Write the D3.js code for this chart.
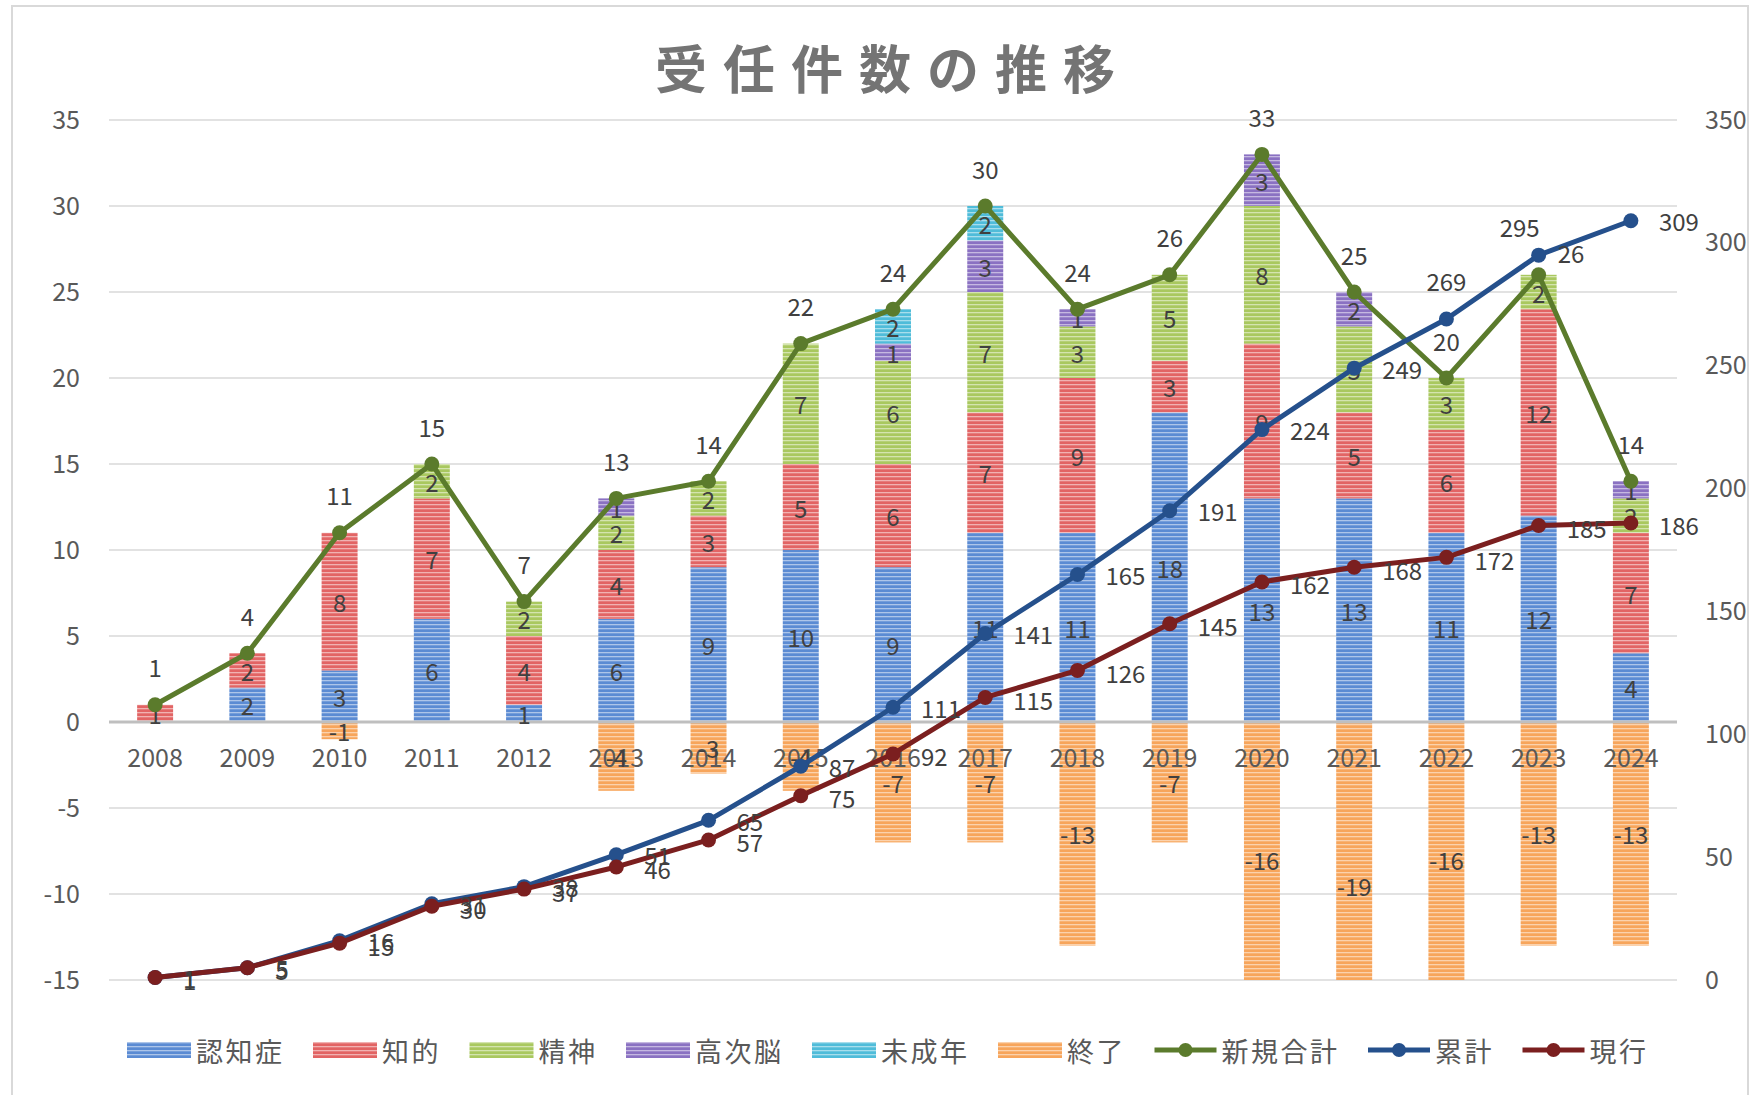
<!DOCTYPE html>
<html><head><meta charset="utf-8">
<script src="https://cdn.jsdelivr.net/npm/d3@7"></script>
<style>
html,body{margin:0;padding:0;background:#fff;}
svg text{font-family:"Noto Sans CJK JP","Noto Sans",sans-serif;}
</style></head><body>
<svg id="chart" width="1757" height="1095"></svg>
<script>
// ---------- data ----------
const years = ["2008","2009","2010","2011","2012","2013","2014","2015","2016","2017","2018","2019","2020","2021","2022","2023","2024"];
const dementia     = [0,2,3,6,1,6,9,10,9,11,11,18,13,13,11,12,4];   // 認知症
const intellectual = [1,2,8,7,4,4,3,5,6,7,9,3,9,5,6,12,7];          // 知的
const mental       = [0,0,0,2,2,2,2,7,6,7,3,5,8,5,3,2,2];           // 精神
const brain        = [0,0,0,0,0,1,0,0,1,3,1,0,3,2,0,0,1];           // 高次脳
const minor        = [0,0,0,0,0,0,0,0,2,2,0,0,0,0,0,0,0];           // 未成年
const ended        = [0,0,-1,0,0,-4,-3,-4,-7,-7,-13,-7,-16,-19,-16,-13,-13]; // 終了
const newTotal     = [1,4,11,15,7,13,14,22,24,30,24,26,33,25,20,26,14];      // 新規合計
const cumulative   = [1,5,16,31,38,51,65,87,111,141,165,191,224,249,269,295,309]; // 累計
const current      = [1,5,15,30,37,46,57,75,92,115,126,145,162,168,172,185,186];  // 現行
const leftTicks  = [-15,-10,-5,0,5,10,15,20,25,30,35];
const rightTicks = [0,50,100,150,200,250,300,350];
const title = "受任件数の推移";

// ---------- styles ----------
const barSeries = [
  {key:"認知症", values:dementia,     color:"#5b8bd3"},
  {key:"知的",   values:intellectual, color:"#e26464"},
  {key:"精神",   values:mental,       color:"#a9c85f"},
  {key:"高次脳", values:brain,        color:"#8a71c2"},
  {key:"未成年", values:minor,        color:"#4fbcd9"},
  {key:"終了",   values:ended,        color:"#f7a55b"}
];
const lineSeries = [
  {key:"新規合計", values:newTotal,   color:"#5b7b2c", axis:"L"},
  {key:"累計",     values:cumulative, color:"#25508c", axis:"R"},
  {key:"現行",     values:current,    color:"#7b1f1f", axis:"R"}
];

const svg = d3.select("#chart");
const plot = {l:109, r:1677, t:120, b:980};
const numFmt = d => String(d);

// chart border
svg.append("rect").attr("x",12).attr("y",6).attr("width",1736).attr("height",1110)
  .attr("fill","#fff").attr("stroke","#d9d9d9").attr("stroke-width",2);

// patterns
const defs = svg.append("defs");
barSeries.forEach((s,i)=>{
  const p = defs.append("pattern").attr("id","pat"+i).attr("patternUnits","userSpaceOnUse")
    .attr("width",8).attr("height",4);
  p.append("rect").attr("width",8).attr("height",4).attr("fill",s.color);
  p.append("rect").attr("y",0).attr("width",8).attr("height",1.3).attr("fill","#ffffff").attr("opacity",0.5);
});
defs.append("clipPath").attr("id","plotclip").append("rect")
  .attr("x",plot.l).attr("y",plot.t).attr("width",plot.r-plot.l).attr("height",plot.b-plot.t);

// scales
const x = d3.scaleBand().domain(years).range([plot.l,plot.r]).paddingInner(0.61).paddingOuter(0.305);
const yL = d3.scaleLinear().domain([-15,35]).range([plot.b,plot.t]);
const yR = d3.scaleLinear().domain([0,350]).range([plot.b,plot.t]);
const cx = d => x(d) + x.bandwidth()/2;

// gridlines
svg.append("g").selectAll("line").data(leftTicks.filter(v=>v!==0)).join("line")
  .attr("x1",plot.l).attr("x2",plot.r).attr("y1",d=>yL(d)).attr("y2",d=>yL(d))
  .attr("stroke","#d9d9d9").attr("stroke-width",1.6);

// title
svg.append("text").attr("x",893).attr("y",66).attr("text-anchor","middle").attr("dominant-baseline","central")
  .attr("font-size",52).attr("font-weight","bold").attr("letter-spacing",16).attr("fill","#747474").text(title);

// left axis
const axL = svg.append("g").attr("transform",`translate(${plot.l},0)`)
  .call(d3.axisLeft(yL).tickValues(leftTicks).tickFormat(numFmt).tickSize(0).tickPadding(29));
axL.select(".domain").remove();
axL.selectAll("text").attr("font-size",25).attr("fill","#595959").attr("font-family",null);

// right axis
const axR = svg.append("g").attr("transform",`translate(${plot.r},0)`)
  .call(d3.axisRight(yR).tickValues(rightTicks).tickFormat(numFmt).tickSize(0).tickPadding(28));
axR.select(".domain").remove();
axR.selectAll("text").attr("font-size",25).attr("fill","#595959").attr("font-family",null);

// stacked bars
const rows = years.map((y,i)=>{const o={year:y}; barSeries.forEach(s=>o[s.key]=s.values[i]); return o;});
const stack = d3.stack().keys(barSeries.map(s=>s.key)).offset(d3.stackOffsetDiverging)(rows);
const barG = svg.append("g").attr("clip-path","url(#plotclip)");
stack.forEach((layer,i)=>{
  barG.append("g").selectAll("rect").data(layer.filter(d=>d[1]!==d[0])).join("rect")
    .attr("x",d=>x(d.data.year)).attr("width",x.bandwidth())
    .attr("y",d=>yL(Math.max(d[0],d[1]))).attr("height",d=>Math.abs(yL(d[0])-yL(d[1])))
    .attr("fill",`url(#pat${i})`);
});

// zero axis line
svg.append("line").attr("x1",plot.l).attr("x2",plot.r).attr("y1",yL(0)).attr("y2",yL(0))
  .attr("stroke","#bfbfbf").attr("stroke-width",3);

// category axis labels
const axB = svg.append("g").attr("transform",`translate(0,${yL(0)})`)
  .call(d3.axisBottom(x).tickSize(0).tickPadding(27));
axB.select(".domain").remove();
axB.selectAll("text").attr("font-size",25).attr("fill","#595959").attr("font-family",null);

// bar labels
stack.forEach((layer,i)=>{
  svg.append("g").selectAll("text").data(layer.filter(d=>d[1]!==d[0])).join("text")
    .attr("x",d=>cx(d.data.year)).attr("y",d=>yL((d[0]+d[1])/2))
    .attr("text-anchor","middle").attr("dominant-baseline","central")
    .attr("font-size",24).attr("fill","#404040")
    .text(d=>d.data[layer.key]);
});

// lines
lineSeries.forEach(s=>{
  const sc = s.axis==="L"? yL : yR;
  const g = svg.append("g");
  g.append("path").datum(s.values)
    .attr("d", d3.line().x((d,i)=>cx(years[i])).y(d=>sc(d)))
    .attr("fill","none").attr("stroke",s.color).attr("stroke-width",5).attr("stroke-linejoin","round");
  g.selectAll("circle").data(s.values).join("circle")
    .attr("cx",(d,i)=>cx(years[i])).attr("cy",d=>sc(d)).attr("r",7.5).attr("fill",s.color);
});

// line labels
const lblG = svg.append("g").attr("font-size",24).attr("fill","#404040");
// 新規合計: above (2023 to upper right)
lblG.append("g").selectAll("text").data(newTotal).join("text")
  .attr("x",(d,i)=> years[i]==="2023" ? cx(years[i])+19 : cx(years[i]))
  .attr("y",(d,i)=> years[i]==="2023" ? yL(d)-22 : yL(d)-38)
  .attr("text-anchor",(d,i)=> years[i]==="2023" ? "start" : "middle")
  .attr("dominant-baseline","central").text(d=>d);
// 累計: right (2022 above, 2023 upper-left)
lblG.append("g").selectAll("text").data(cumulative).join("text")
  .attr("x",(d,i)=> years[i]==="2022" ? cx(years[i]) : years[i]==="2023" ? cx(years[i])-19 : cx(years[i])+28)
  .attr("y",(d,i)=> years[i]==="2022" ? yR(d)-39 : years[i]==="2023" ? yR(d)-29 : yR(d))
  .attr("text-anchor",(d,i)=> (years[i]==="2022"||years[i]==="2023") ? "middle" : "start")
  .attr("dominant-baseline","central").text(d=>d);
// 現行: right
lblG.append("g").selectAll("text").data(current).join("text")
  .attr("x",(d,i)=>cx(years[i])+28).attr("y",d=>yR(d)+2)
  .attr("text-anchor","start").attr("dominant-baseline","central").text(d=>d);

// legend
const leg = svg.append("g").attr("transform","translate(127,1050)");
let lx = 0;
barSeries.forEach((s,i)=>{
  const g = leg.append("g").attr("transform",`translate(${lx},0)`);
  g.append("rect").attr("x",0).attr("y",-8).attr("width",64).attr("height",16).attr("fill",`url(#pat${i})`);
  const t = g.append("text").attr("x",69).attr("y",0).attr("dominant-baseline","central")
    .attr("font-size",27).attr("letter-spacing",2.5).attr("fill","#595959").text(s.key);
  lx += 69 + t.node().getComputedTextLength() + 28.5;
});
lineSeries.forEach(s=>{
  const g = leg.append("g").attr("transform",`translate(${lx},0)`);
  g.append("line").attr("x1",0).attr("x2",62).attr("y1",0).attr("y2",0).attr("stroke",s.color).attr("stroke-width",5);
  g.append("circle").attr("cx",31).attr("cy",0).attr("r",7).attr("fill",s.color);
  const t = g.append("text").attr("x",67).attr("y",0).attr("dominant-baseline","central")
    .attr("font-size",27).attr("letter-spacing",2.5).attr("fill","#595959").text(s.key);
  lx += 67 + t.node().getComputedTextLength() + 28.5;
});
</script>
</body></html>
